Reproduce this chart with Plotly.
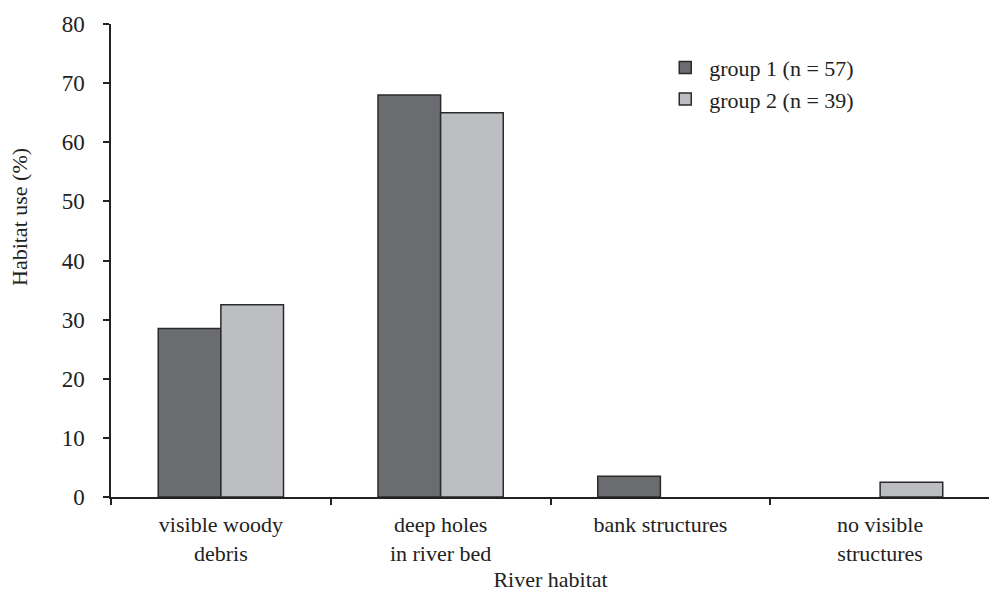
import plotly.graph_objects as go

categories = ["visible woody<br>debris", "deep holes<br>in river bed", "bank structures", "no visible<br>structures"]
group1 = [28.5, 68.0, 3.5, None]
group2 = [32.5, 65.0, None, 2.5]
names = ["group 1 (n = 57)", "group 2 (n = 39)"]
yticks = [0, 10, 20, 30, 40, 50, 60, 70, 80]

FONT = "Liberation Serif"
fig = go.Figure()
fig.add_trace(go.Bar(x=categories, y=group1, name=names[0],
                     marker=dict(color="#6b6c70", line=dict(color="#2a2a2a", width=1.5))))
fig.add_trace(go.Bar(x=categories, y=group2, name=names[1],
                     marker=dict(color="#bdbec2", line=dict(color="#2a2a2a", width=1.5))))

fig.update_layout(
    width=989, height=588,
    margin=dict(l=103, r=7, t=16, b=99, autoexpand=False),
    paper_bgcolor="white", plot_bgcolor="white",
    barmode="group", bargap=0.43, bargroupgap=0,
    font=dict(family=FONT, size=22, color="#222"),
    legend=dict(x=0.626, y=0.952, xanchor="left", yanchor="top",
                font=dict(family=FONT, size=22, color="#222"),
                bgcolor="rgba(0,0,0,0)", tracegroupgap=0, itemwidth=38),
    showlegend=True,
)
fig.update_xaxes(
    automargin=False,
    showline=True, linecolor="#222", linewidth=1.5,
    ticks="outside", tickson="boundaries", ticklen=6, tickcolor="#222", tickwidth=1.5,
    showgrid=False,
    title=dict(text="River habitat", font=dict(family=FONT, size=22), standoff=7),
    tickfont=dict(family=FONT, size=22),
    ticklabelstandoff=7,
)
fig.update_yaxes(
    automargin=False,
    range=[0, 80], tickvals=yticks,
    showline=True, linecolor="#222", linewidth=1.5,
    ticks="outside", ticklen=6, tickcolor="#222", tickwidth=1.5,
    showgrid=False, zeroline=False,
    tickfont=dict(family=FONT, size=23),
    ticklabelstandoff=14,
)
fig.add_annotation(text="Habitat use (%)", xref="paper", yref="paper",
                   x=-0.1035, y=0.592, xanchor="center", yanchor="middle",
                   textangle=-90, showarrow=False,
                   font=dict(family=FONT, size=22, color="#222"))

fig.write_html("out.html")
